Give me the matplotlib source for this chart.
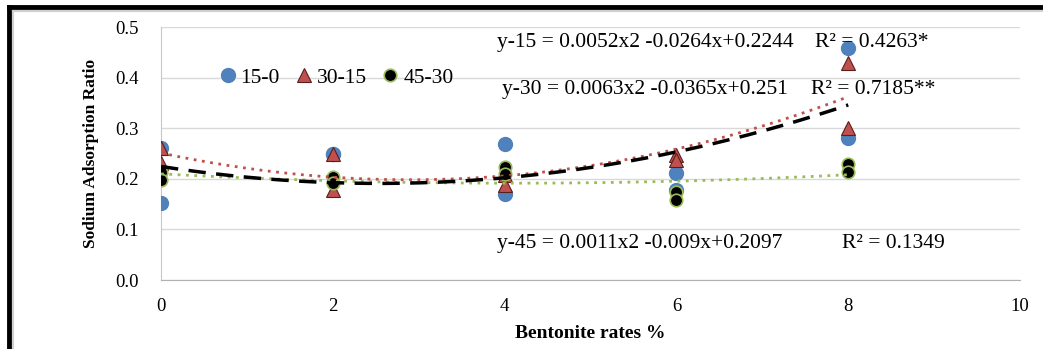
import numpy as np
import matplotlib
matplotlib.use("Agg")
import matplotlib.pyplot as plt
from matplotlib.lines import Line2D

# data (two replicates per rate)
rates = [0, 0, 2, 2, 4, 4, 6, 6, 8, 8]
sar_15_0 = [0.261, 0.152, 0.249, 0.249, 0.269, 0.170, 0.211, 0.178, 0.458, 0.280]
sar_30_15 = [0.261, 0.231, 0.249, 0.178, 0.207, 0.188, 0.247, 0.237, 0.429, 0.300]
sar_45_30 = [0.213, 0.198, 0.204, 0.192, 0.223, 0.210, 0.174, 0.158, 0.229, 0.213]

# quadratic trendline coefficients (a, b, c) as printed
coef_15 = [0.0052, -0.0264, 0.2244]
coef_30 = [0.0063, -0.0365, 0.251]
coef_45 = [0.0011, -0.009, 0.2097]

eq_15 = "y-15 = 0.0052x2 -0.0264x+0.2244"
eq_30 = "y-30 = 0.0063x2 -0.0365x+0.251"
eq_45 = "y-45 = 0.0011x2 -0.009x+0.2097"
r2_15 = "R² = 0.4263*"
r2_30 = "R² = 0.7185**"
r2_45 = "R² = 0.1349"

blue = "#4f81bd"
red = "#c0504d"
green = "#9bbb59"

plt.rcParams["font.family"] = ["Liberation Serif", "DejaVu Serif"]

fig = plt.figure(figsize=(10.43, 3.49), dpi=100)
ax = fig.add_axes([0.1544, 0.1977, 0.8236, 0.7249])

ax.plot(rates, sar_15_0, ls="none", marker="o", ms=10, color=blue,
        mec=blue, label="15-0", zorder=3)
ax.plot(rates, sar_30_15, ls="none", marker="^", ms=10, color=red,
        mec="#5a1f1d", mew=0.8, label="30-15", zorder=3)
ax.plot(rates, sar_45_30, ls="none", marker="o", ms=9, color="black",
        mec=green, mew=1.2, label="45-30", zorder=3)

xs = np.linspace(0, 8, 200)
ax.plot(xs, np.polyval(coef_30, xs), ls=(0, (1, 2)), lw=2, color=red, zorder=4)
ax.plot(xs, np.polyval(coef_45, xs), ls=(0, (1, 2)), lw=2, color=green, zorder=4)
ax.plot(xs, np.polyval(coef_15, xs), ls=(0, (5, 3)), lw=2.5, color="black", zorder=4)

ax.set_xlim(0, 10)
ax.set_ylim(0, 0.5)
ax.set_xticks([0, 2, 4, 6, 8, 10])
ax.set_yticks(np.arange(0, 0.51, 0.1))
ax.yaxis.set_major_formatter(matplotlib.ticker.FormatStrFormatter("%.1f"))
ax.tick_params(length=0, labelsize=13.5)
ax.tick_params(axis="x", pad=13)
ax.tick_params(axis="y", pad=16)
ax.grid(axis="y", color="#d9d9d9", lw=1)
ax.set_axisbelow(True)
for s in ["top", "right"]:
    ax.spines[s].set_visible(False)
ax.spines["left"].set_color("#c8c8c8")
ax.spines["bottom"].set_color("#b0b0b0")

ax.set_ylabel("Sodium Adsorption Ratio", fontsize=12.5, fontweight="bold", labelpad=12)
ax.set_xlabel("Bentonite rates %", fontsize=14, fontweight="bold", labelpad=7)

# equations and R2
ax.text(3.91, 0.470, eq_15, fontsize=15.5, va="center")
ax.text(7.61, 0.470, r2_15, fontsize=15.5, va="center")
ax.text(3.97, 0.377, eq_30, fontsize=15.5, va="center")
ax.text(7.57, 0.377, r2_30, fontsize=15.5, va="center")
ax.text(3.91, 0.073, eq_45, fontsize=15.5, va="center")
ax.text(7.93, 0.073, r2_45, fontsize=15.5, va="center")

ax.legend(loc="center left", bbox_to_anchor=(0.04, 0.80), ncol=3, frameon=False,
          fontsize=15.5, handletextpad=0.0, columnspacing=0.5, handlelength=1.2)

# black frame at left and top
fig.add_artist(Line2D([9 / 1043, 9 / 1043], [0, 1 - 7 / 349], color="black", lw=3.5))
fig.add_artist(Line2D([9 / 1043, 1], [1 - 7 / 349, 1 - 7 / 349], color="black", lw=3.5))
fig.add_artist(Line2D([13 / 1043, 13 / 1043], [0, 1 - 11 / 349], color="#d0d0d0", lw=1.5))
fig.add_artist(Line2D([13 / 1043, 1], [1 - 11 / 349, 1 - 11 / 349], color="#d0d0d0", lw=1.5))

fig.savefig("out.png", dpi=100)
